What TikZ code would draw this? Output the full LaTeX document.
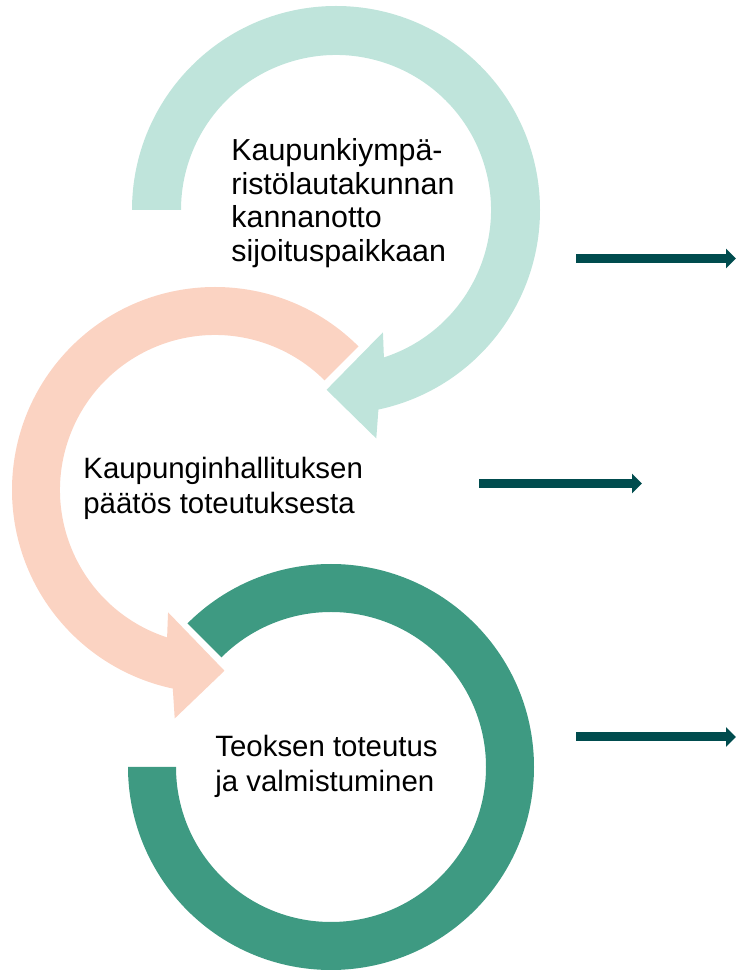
\documentclass[tikz,border=0pt]{standalone}
\usepackage{fontspec}
\setmainfont{Liberation Sans}
\usetikzlibrary{arrows.meta}
\definecolor{mintring}{RGB}{191,228,219}
\definecolor{salmonring}{RGB}{251,211,194}
\definecolor{greenring}{RGB}{62,154,130}
\definecolor{darkteal}{RGB}{0,76,78}
\tikzset{%
  steptext/.style = {anchor=north west, inner sep=0pt, align=left,%
                     font=\fontsize{14.7}{17.5}\selectfont},%
  outarrow/.style = {darkteal, line width=4.5pt,%
                     -{Triangle[length=5pt,width=9.5pt]}}%
}

\begin{document}
\begin{tikzpicture}[x=0.5pt,y=0.5pt]
	\useasboundingbox (0,0) rectangle (736,970);
	% rings, each cut and ending in a head
	\begin{scope}[shift={(336,760)}]
		\fill[mintring] (180:204) arc[start angle=180, end angle=-78, radius=204]
			-- (-80:232) -- (-93:180) -- (-69:131) -- (-72:155)
			arc[start angle=-72, end angle=180, radius=155] -- cycle;
	\end{scope}
	\begin{scope}[shift={(215,480)}]
		\fill[salmonring] (45:203) arc[start angle=45, end angle=258, radius=203]
			-- (260:232) -- (273:181) -- (249:131) -- (252:155)
			arc[start angle=252, end angle=45, radius=155] -- cycle;
	\end{scope}
	\begin{scope}[shift={(331,203)}]
		\fill[greenring] (135:203) arc[start angle=135, end angle=-180, radius=203]
			-- (180:155) arc[start angle=-180, end angle=135, radius=155] -- cycle;
	\end{scope}
	\node[steptext, font=\fontsize{15.2}{16.8}\selectfont] (kannanotto) at (231,832)
		{Kaupunkiympä-\\ristölautakunnan\\kannanotto\\sijoituspaikkaan};
	\node[steptext] (paatos) at (83,513) {Kaupunginhallituksen\\päätös toteutuksesta};
	\node[steptext] (toteutus) at (215,235) {Teoksen toteutus\\ja valmistuminen};
	% arrows out to the right
	\coordinate (out1a) at (576,711.5);
	\coordinate (out1b) at (736,711.5);
	\coordinate (out2a) at (479,486.5);
	\coordinate (out2b) at (642,486.5);
	\coordinate (out3a) at (576,233);
	\coordinate (out3b) at (736,233);
	\draw[outarrow] (out1a) -- (out1b);
	\draw[outarrow] (out2a) -- (out2b);
	\draw[outarrow] (out3a) -- (out3b);
\end{tikzpicture}
\end{document}
